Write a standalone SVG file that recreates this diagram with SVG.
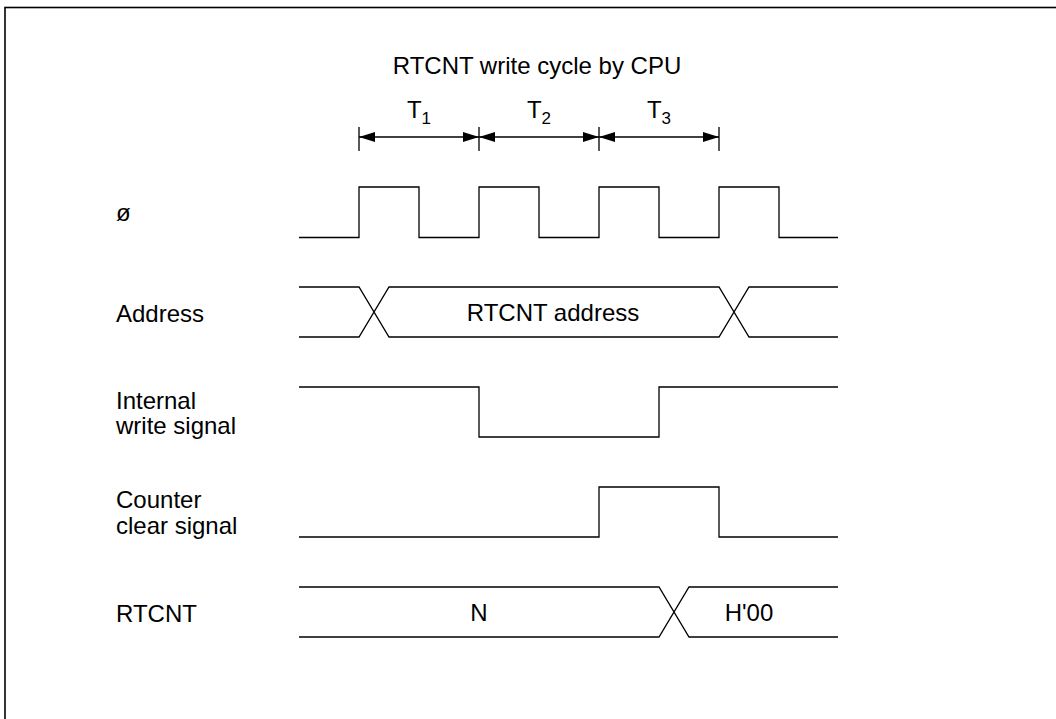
<svg xmlns="http://www.w3.org/2000/svg" width="1056" height="719" viewBox="0 0 1056 719">
<defs>
<style>
text{font-family:"Liberation Sans",Arial,sans-serif;font-size:24px;fill:#000}
.w{fill:none;stroke:#000;stroke-width:1.3}
.sub{font-size:17px}
</style>
<marker id="ah" viewBox="0 0 16 10" refX="16" refY="5" markerWidth="16" markerHeight="10" markerUnits="userSpaceOnUse" orient="auto-start-reverse">
<path d="M0,0 L16,5 L0,10 Z" fill="#000"/>
</marker>
</defs>
<rect width="1056" height="719" fill="#fff"/>
<rect x="5" y="7.5" width="1100" height="800" fill="none" stroke="#000" stroke-width="1.6"/>
<g id="title"><text x="537" y="74" text-anchor="middle">RTCNT write cycle by CPU</text></g>
<g id="timing">
<text x="419" y="118" text-anchor="middle">T<tspan class="sub" dy="6">1</tspan></text>
<text x="539" y="118" text-anchor="middle">T<tspan class="sub" dy="6">2</tspan></text>
<text x="659" y="118" text-anchor="middle">T<tspan class="sub" dy="6">3</tspan></text>
</g>
<g id="connectors">
<path class="w" d="M359,127V151M479,127V151M599,127V151M719,127V151"/>
<line class="w" x1="359" y1="137" x2="479" y2="137" marker-start="url(#ah)" marker-end="url(#ah)"/>
<line class="w" x1="479" y1="137" x2="599" y2="137" marker-start="url(#ah)" marker-end="url(#ah)"/>
<line class="w" x1="599" y1="137" x2="719" y2="137" marker-start="url(#ah)" marker-end="url(#ah)"/>
</g>
<g id="clock">
<text x="116" y="221">ø</text>
<path class="w" d="M299,237.5H359V187H419V237.5H479V187H539V237.5H599V187H659V237.5H719V187H779V237.5H838"/>
</g>
<g id="address">
<text x="116" y="322">Address</text>
<path class="w" d="M299,287H359L389,337H719L749,287H838M299,337H359L389,287H719L749,337H838"/>
<text x="553" y="321" text-anchor="middle">RTCNT address</text>
</g>
<g id="write">
<text x="116" y="409">Internal</text>
<text x="116" y="434">write signal</text>
<path class="w" d="M299,387H479V437H659V387H838"/>
</g>
<g id="clear">
<text x="116" y="508">Counter</text>
<text x="116" y="534">clear signal</text>
<path class="w" d="M299,537H599V487H719V537H838"/>
</g>
<g id="rtcnt">
<text x="116" y="622">RTCNT</text>
<path class="w" d="M299,587H659L689,637H838M299,637H659L689,587H838"/>
<text x="479" y="621" text-anchor="middle">N</text>
<text x="749" y="621" text-anchor="middle">H'00</text>
</g>
</svg>
